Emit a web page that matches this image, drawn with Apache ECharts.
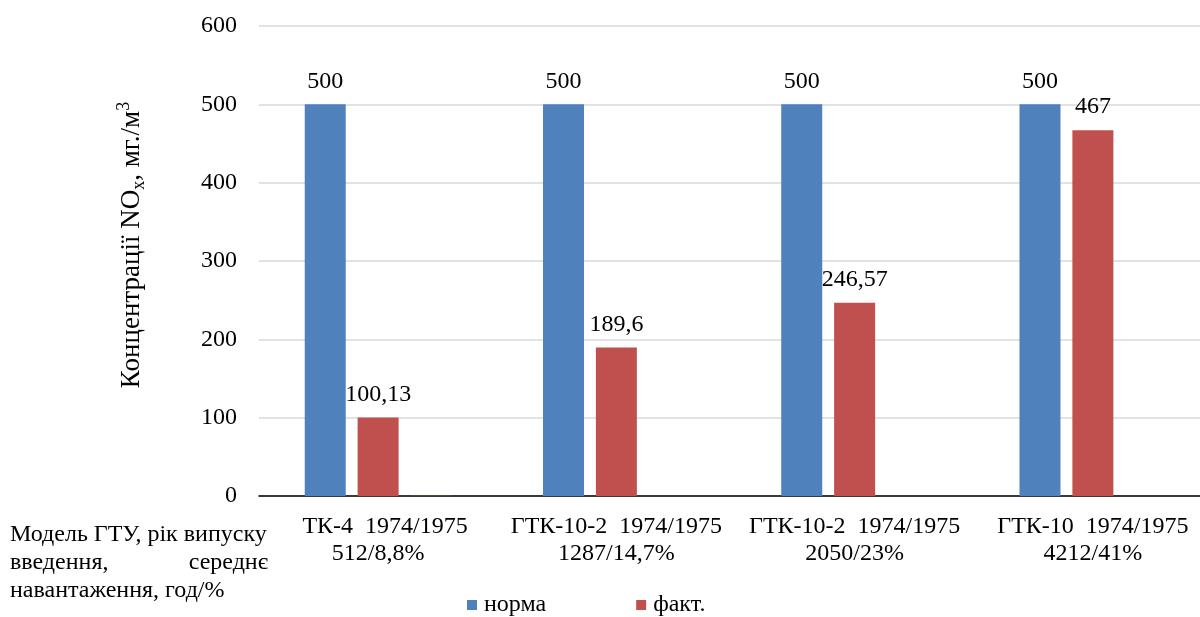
<!DOCTYPE html>
<html>
<head>
<meta charset="utf-8">
<script src="https://cdn.jsdelivr.net/npm/echarts@6/dist/echarts.min.js"></script>
<style>
  html, body { margin: 0; padding: 0; background: #fff; overflow: hidden; }
  /* the plot area runs a little past the right edge of the window */
  #chart { width: 1212px; height: 617px; }
</style>
</head>
<body>
<div id="chart"></div>
<script>
// Gas turbine units: model, year of commissioning, mean load (h/%)
const categories = [
  'ГТК-4  1974/1975\n512/8,8%',
  'ГТК-10-2  1974/1975\n1287/14,7%',
  'ГТК-10-2  1974/1975\n2050/23%',
  'ГТК-10  1974/1975\n4212/41%'
];
// NOx concentration, mg/m3
const normValues = [500, 500, 500, 500];
const actualValues = [100.13, 189.6, 246.57, 467];
const thirdValues = [0.5, null, null, null];
const yTicks = [0, 100, 200, 300, 400, 500, 600];

const FONT = '"Liberation Serif", "Times New Roman", serif';
const FS = 24;
const fmt = v => String(v.value).replace('.', ',');

const chart = echarts.init(document.getElementById('chart'));
chart.setOption({
  animation: false,
  textStyle: { fontFamily: FONT, color: '#000' },
  grid: { left: 259, right: 0, top: 26, bottom: 121, containLabel: false },
  legend: {
    data: ['норма', 'факт.'],
    top: 588,
    left: 462,
    itemWidth: 10,
    itemHeight: 10,
    itemGap: 90,
    icon: 'rect',
    textStyle: { fontFamily: FONT, fontSize: FS, color: '#000', padding: [0, 0, 0, 2] }
  },
  xAxis: {
    type: 'category',
    data: categories,
    axisLine: { lineStyle: { color: '#000', width: 1.5 } },
    axisTick: { show: false },
    axisLabel: {
      fontFamily: FONT, fontSize: FS, color: '#000',
      lineHeight: 27, margin: 17, interval: 0
    }
  },
  yAxis: {
    type: 'value',
    min: yTicks[0],
    max: yTicks[yTicks.length - 1],
    interval: 100,
    name: '{a|Концентрації NO}{s|x}{a|, мг./м}{p|3}',
    nameLocation: 'middle',
    nameGap: 110,
    nameRotate: 90,
    nameTextStyle: {
      padding: [0, 0, 0, 32],
      rich: {
        a: { fontFamily: FONT, fontSize: 27, color: '#000', lineHeight: 34 },
        s: { fontFamily: FONT, fontSize: 18, color: '#000', padding: [14, 0, 0, 0], lineHeight: 34 },
        p: { fontFamily: FONT, fontSize: 18, color: '#000', padding: [0, 0, 16, 0], lineHeight: 34 }
      }
    },
    axisLine: { show: false },
    axisTick: { show: false },
    splitLine: { lineStyle: { color: '#d9d9d9', width: 1.5 } },
    axisLabel: { fontFamily: FONT, fontSize: FS, color: '#000', margin: 22 }
  },
  series: [
    {
      name: 'норма',
      type: 'bar',
      data: normValues,
      barWidth: 41,
      barGap: '29%',
      itemStyle: { color: '#4F81BD' },
      label: { show: true, position: 'top', distance: 11, fontFamily: FONT, fontSize: FS, color: '#000', formatter: fmt }
    },
    {
      name: 'факт.',
      type: 'bar',
      data: actualValues,
      barWidth: 41,
      barGap: '29%',
      itemStyle: { color: '#C0504D' },
      label: { show: true, position: 'top', distance: 11, fontFamily: FONT, fontSize: FS, color: '#000', formatter: fmt }
    },
    {
      name: 'інше',
      type: 'bar',
      data: thirdValues,
      barWidth: 41,
      barGap: '29%',
      itemStyle: { color: '#4F6228' }
    }
  ],
  graphic: [
    // opaque box of the left-hand axis caption, lying over the first category label
    {
      type: 'rect', left: 0, top: 510, z: 100,
      shape: { width: 302, height: 30 },
      style: { fill: '#fff' }
    },
    {
      type: 'rect', left: 0, top: 540, z: 100,
      shape: { width: 292, height: 48 },
      style: { fill: '#fff' }
    },
    {
      type: 'text', x: 10, y: 535, z: 101,
      style: { text: 'Модель ГТУ, рік випуску', font: FS + 'px ' + FONT, fill: '#000', verticalAlign: 'middle' }
    },
    {
      type: 'text', x: 10, y: 563, z: 101,
      style: { text: 'введення,', font: FS + 'px ' + FONT, fill: '#000', verticalAlign: 'middle' }
    },
    {
      type: 'text', x: 268, y: 563, z: 101,
      style: { text: 'середнє', font: FS + 'px ' + FONT, fill: '#000', align: 'right', verticalAlign: 'middle' }
    },
    {
      type: 'text', x: 10, y: 591, z: 101,
      style: { text: 'навантаження, год/%', font: FS + 'px ' + FONT, fill: '#000', verticalAlign: 'middle' }
    }
  ]
});
</script>
</body>
</html>
